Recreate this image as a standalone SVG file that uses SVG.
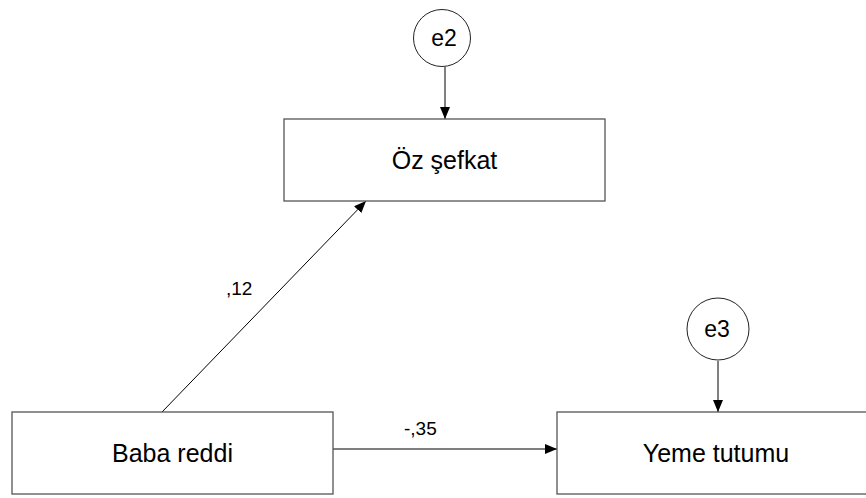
<svg xmlns="http://www.w3.org/2000/svg" width="866" height="498" viewBox="0 0 866 498">
  <defs>
    <marker id="arrow" viewBox="0 0 12 10" refX="12" refY="5" markerWidth="12" markerHeight="10" markerUnits="userSpaceOnUse" orient="auto">
      <path d="M0,0 L12,5 L0,10 Z" fill="#000"/>
    </marker>
  </defs>
  <style>
    .box { fill: #fff; stroke: #555; stroke-width: 1.3; }
    .err { fill: #fff; stroke: #222; stroke-width: 1; }
    .lbl { font-family: "Liberation Sans", Arial, sans-serif; fill: #000; text-anchor: middle; }
    .node { font-size: 25px; }
    .enode { font-size: 23px; }
    .coef { font-family: "Liberation Sans", Arial, sans-serif; font-size: 19px; fill: #000; }
    .edge { stroke: #000; stroke-width: 1; fill: none; marker-end: url(#arrow); }
  </style>
  <rect width="866" height="498" fill="#fff"/>

  <g id="connectors">
    <line class="edge" x1="445" y1="67" x2="445" y2="119"/>
    <line class="edge" x1="718" y1="361" x2="718" y2="412"/>
    <line class="edge" x1="162" y1="412" x2="366" y2="201"/>
    <line class="edge" x1="333" y1="449" x2="557" y2="449"/>
    <text class="coef" x="226" y="295">,12</text>
    <text class="coef" x="404" y="435">-,35</text>
  </g>

  <g id="e2">
    <circle class="err" cx="442" cy="38" r="28.5"/>
    <text class="lbl enode" x="444" y="46">e2</text>
  </g>

  <g id="e3">
    <circle class="err" cx="718" cy="329" r="31"/>
    <text class="lbl enode" x="717" y="337">e3</text>
  </g>

  <g id="oz-sefkat">
    <rect class="box" x="284" y="119" width="321" height="82"/>
    <text class="lbl node" x="444.5" y="169">Öz şefkat</text>
  </g>

  <g id="baba-reddi">
    <rect class="box" x="12" y="412" width="321" height="82"/>
    <text class="lbl node" x="172.5" y="462">Baba reddi</text>
  </g>

  <g id="yeme-tutumu">
    <rect class="box" x="557" y="412" width="318" height="82"/>
    <text class="lbl node" x="716" y="462">Yeme tutumu</text>
  </g>
</svg>
